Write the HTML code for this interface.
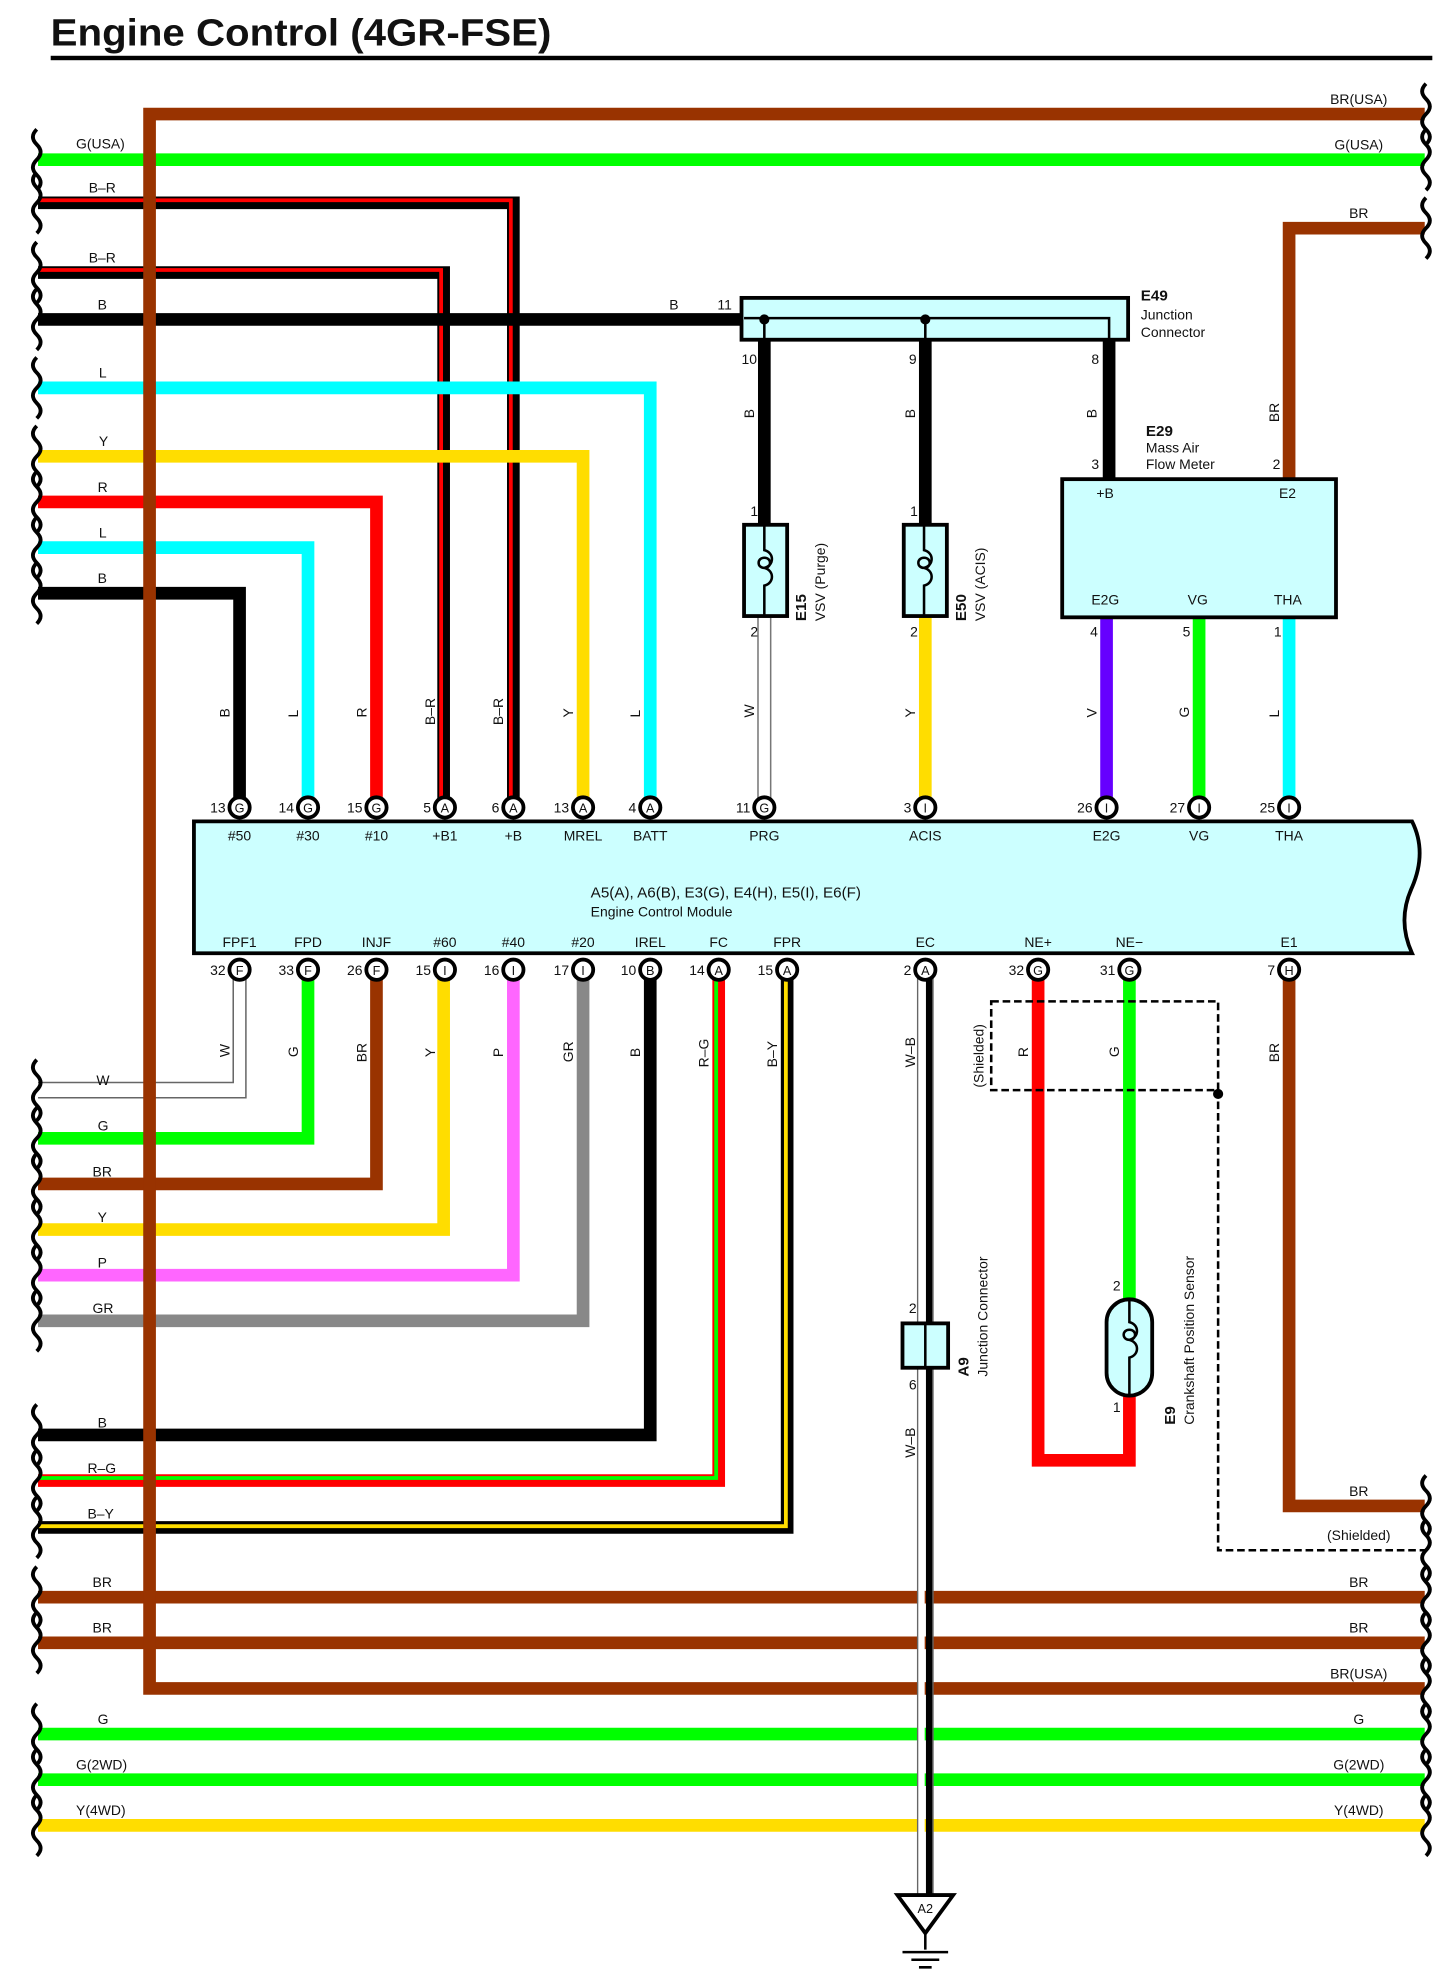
<!DOCTYPE html>
<html><head><meta charset="utf-8"><style>
html,body{margin:0;padding:0;background:#fff;}
svg{display:block}
text{font-family:"Liberation Sans",sans-serif;font-size:11px;fill:#111}
.b{font-weight:bold}
</style></head><body>
<svg width="1445" height="1980" viewBox="0 0 1140 1562" preserveAspectRatio="none" xmlns="http://www.w3.org/2000/svg">
<defs>
<path id="wv" d="M2,-24 q-6,6 0,12 q6,6 0,12 q-6,6 0,12 q6,6 0,12" fill="none" stroke="#000" stroke-width="3"/>
</defs>
<text x="40" y="36" class="b" style="font-size:30px" textLength="395" lengthAdjust="spacingAndGlyphs">Engine Control (4GR-FSE)</text>
<rect x="40" y="44" width="1090" height="3.5" fill="#000"/>

<g fill="none" stroke-linejoin="miter">
<path d="M30,126H1124" stroke="#00ff00" stroke-width="10"/>
<path d="M30,160H405V638" stroke="#000" stroke-width="10"/>
<path d="M30,158H403V638" stroke="#ff0000" stroke-width="3"/>
<path d="M30,215H350V638" stroke="#000" stroke-width="10"/>
<path d="M30,213H348V638" stroke="#ff0000" stroke-width="3"/>
<path d="M30,252H585" stroke="#000" stroke-width="10"/>
<path d="M30,306H513V638" stroke="#00ffff" stroke-width="10"/>
<path d="M30,360H460V638" stroke="#ffdd00" stroke-width="10"/>
<path d="M30,396H297V638" stroke="#ff0000" stroke-width="10"/>
<path d="M30,432H243V638" stroke="#00ffff" stroke-width="10"/>
<path d="M30,468H189V638" stroke="#000" stroke-width="10"/>
<path d="M603,268V413" stroke="#000" stroke-width="10"/>
<path d="M730,268V413" stroke="#000" stroke-width="10"/>
<path d="M875,268V378" stroke="#000" stroke-width="10"/>
<path d="M598,487V638M608,487V638" stroke="#777" stroke-width="1.2"/>
<path d="M730,487V638" stroke="#ffdd00" stroke-width="10"/>
<path d="M1124,180H1017V378" stroke="#993300" stroke-width="10"/>
<path d="M873,487V638" stroke="#6600ff" stroke-width="10"/>
<path d="M946,487V638" stroke="#00ff00" stroke-width="10"/>
<path d="M1017,487V638" stroke="#00ffff" stroke-width="10"/>
<path d="M30,854H184V766M30,866H194V766" stroke="#666" stroke-width="1.2"/>
<path d="M30,898H243V766" stroke="#00ff00" stroke-width="10"/>
<path d="M30,934H297V766" stroke="#993300" stroke-width="10"/>
<path d="M30,970H350V766" stroke="#ffdd00" stroke-width="10"/>
<path d="M30,1006H405V766" stroke="#ff66ff" stroke-width="10"/>
<path d="M30,1042H460V766" stroke="#888888" stroke-width="10"/>
<path d="M30,1132H513V766" stroke="#000" stroke-width="10"/>
<path d="M30,1168H567V766" stroke="#ff0000" stroke-width="10"/>
<path d="M30,1166H565V766" stroke="#00ff00" stroke-width="3"/>
<path d="M30,1205H621V766" stroke="#000" stroke-width="10"/>
<path d="M30,1204H620V766" stroke="#ffdd00" stroke-width="3"/>
<path d="M30,1260H1124" stroke="#993300" stroke-width="10"/>
<path d="M30,1296H1124" stroke="#993300" stroke-width="10"/>
<path d="M30,1368H1124" stroke="#00ff00" stroke-width="10"/>
<path d="M30,1404H1124" stroke="#00ff00" stroke-width="10"/>
<path d="M30,1440H1124" stroke="#ffdd00" stroke-width="10"/>
<path d="M1124,90H118V1332H1124" stroke="#993300" stroke-width="10"/>
<path d="M724,766V1495M736,766V1495" stroke="#666" stroke-width="1.2"/>
<path d="M733,766V1495" stroke="#000" stroke-width="5"/>
<path d="M727,766V1495" stroke="#fff" stroke-width="5"/>
<path d="M819,766V1152H891V1100" stroke="#ff0000" stroke-width="10"/>
<path d="M891,766V1028" stroke="#00ff00" stroke-width="10"/>
<path d="M1017,766V1188H1124" stroke="#993300" stroke-width="10"/>
<path d="M782,790H961V860H782Z" stroke="#000" stroke-width="2" stroke-dasharray="6,3"/>
<path d="M961,860V1223H1124" stroke="#000" stroke-width="2" stroke-dasharray="6,3"/>
</g>
<circle cx="961" cy="863" r="4" fill="#000"/>

<g>
<use href="#wv" x="27" y="126"/><use href="#wv" x="27" y="160"/><use href="#wv" x="27" y="215"/><use href="#wv" x="27" y="252"/>
<use href="#wv" x="27" y="306"/><use href="#wv" x="27" y="360"/><use href="#wv" x="27" y="396"/><use href="#wv" x="27" y="432"/><use href="#wv" x="27" y="468"/>
<use href="#wv" x="27" y="860"/><use href="#wv" x="27" y="898"/><use href="#wv" x="27" y="934"/><use href="#wv" x="27" y="970"/><use href="#wv" x="27" y="1006"/><use href="#wv" x="27" y="1042"/>
<use href="#wv" x="27" y="1132"/><use href="#wv" x="27" y="1168"/><use href="#wv" x="27" y="1205"/>
<use href="#wv" x="27" y="1260"/><use href="#wv" x="27" y="1296"/><use href="#wv" x="27" y="1368"/><use href="#wv" x="27" y="1404"/><use href="#wv" x="27" y="1440"/>
<use href="#wv" x="1123" y="90"/><use href="#wv" x="1123" y="126"/><use href="#wv" x="1123" y="180"/>
<use href="#wv" x="1123" y="1188"/><use href="#wv" x="1123" y="1223"/><use href="#wv" x="1123" y="1260"/><use href="#wv" x="1123" y="1296"/><use href="#wv" x="1123" y="1332"/>
<use href="#wv" x="1123" y="1368"/><use href="#wv" x="1123" y="1404"/><use href="#wv" x="1123" y="1440"/>
</g>

<rect x="585" y="235" width="305" height="33" fill="#ccffff" stroke="#000" stroke-width="3"/>
<path d="M587,251H875V268M603,251V268M730,251V268" fill="none" stroke="#000" stroke-width="2"/>
<circle cx="603" cy="252" r="4" fill="#000"/><circle cx="730" cy="252" r="4" fill="#000"/>
<text x="900" y="237" class="b" style="font-size:12px">E49</text>
<text x="900" y="252">Junction</text><text x="900" y="266">Connector</text>
<text x="528" y="244">B</text><text x="566" y="244">11</text>
<text x="585" y="287">10</text><text x="717" y="287">9</text><text x="861" y="287">8</text>

<g fill="#ccffff" stroke="#000" stroke-width="3">
<rect x="587" y="414" width="34" height="72"/><rect x="713" y="414" width="34" height="72"/>
</g>
<g fill="none" stroke="#000" stroke-width="2">
<path d="M603,414v20c8,2 8,12 0,14c-6,0 -6,-8 0,-8c6,0 6,8 0,8M603,448c8,2 8,12 0,14v24"/>
<path d="M729,414v20c8,2 8,12 0,14c-6,0 -6,-8 0,-8c6,0 6,8 0,8M729,448c8,2 8,12 0,14v24"/>
</g>
<text x="592" y="407">1</text><text x="592" y="502">2</text><text x="718" y="407">1</text><text x="718" y="502">2</text>
<text transform="translate(636,490) rotate(-90)" class="b" style="font-size:12px">E15</text>
<text transform="translate(651,490) rotate(-90)">VSV (Purge)</text>
<text transform="translate(762,490) rotate(-90)" class="b" style="font-size:12px">E50</text>
<text transform="translate(777,490) rotate(-90)">VSV (ACIS)</text>

<rect x="838" y="378" width="216" height="109" fill="#ccffff" stroke="#000" stroke-width="3"/>
<text x="904" y="344" class="b" style="font-size:12px">E29</text>
<text x="904" y="357">Mass Air</text><text x="904" y="370">Flow Meter</text>
<text x="861" y="370">3</text><text x="1004" y="370">2</text>
<text x="865" y="393">+B</text><text x="1009" y="393">E2</text>
<text x="861" y="477">E2G</text><text x="937" y="477">VG</text><text x="1005" y="477">THA</text>
<text x="860" y="502">4</text><text x="933" y="502">5</text><text x="1005" y="502">1</text>

<path d="M153,648H1114q12,24 0,52q-12,26 0,52H153Z" fill="#ccffff" stroke="#000" stroke-width="3"/>
<text x="466" y="708" style="font-size:12px">A5(A), A6(B), E3(G), E4(H), E5(I), E6(F)</text>
<text x="466" y="723">Engine Control Module</text>
<g text-anchor="middle">
<text x="189" y="663">#50</text><text x="243" y="663">#30</text><text x="297" y="663">#10</text><text x="351" y="663">+B1</text><text x="405" y="663">+B</text><text x="460" y="663">MREL</text><text x="513" y="663">BATT</text><text x="603" y="663">PRG</text><text x="730" y="663">ACIS</text><text x="873" y="663">E2G</text><text x="946" y="663">VG</text><text x="1017" y="663">THA</text>
<text x="189" y="747">FPF1</text><text x="243" y="747">FPD</text><text x="297" y="747">INJF</text><text x="351" y="747">#60</text><text x="405" y="747">#40</text><text x="460" y="747">#20</text><text x="513" y="747">IREL</text><text x="567" y="747">FC</text><text x="621" y="747">FPR</text><text x="730" y="747">EC</text><text x="819" y="747">NE+</text><text x="891" y="747">NE−</text><text x="1017" y="747">E1</text>
</g>
<g fill="#fff" stroke="#000" stroke-width="3">
<circle cx="189" cy="637" r="8"/><circle cx="243" cy="637" r="8"/><circle cx="297" cy="637" r="8"/><circle cx="351" cy="637" r="8"/><circle cx="405" cy="637" r="8"/><circle cx="460" cy="637" r="8"/><circle cx="513" cy="637" r="8"/><circle cx="603" cy="637" r="8"/><circle cx="730" cy="637" r="8"/><circle cx="873" cy="637" r="8"/><circle cx="946" cy="637" r="8"/><circle cx="1017" cy="637" r="8"/>
<circle cx="189" cy="765" r="8"/><circle cx="243" cy="765" r="8"/><circle cx="297" cy="765" r="8"/><circle cx="351" cy="765" r="8"/><circle cx="405" cy="765" r="8"/><circle cx="460" cy="765" r="8"/><circle cx="513" cy="765" r="8"/><circle cx="567" cy="765" r="8"/><circle cx="621" cy="765" r="8"/><circle cx="730" cy="765" r="8"/><circle cx="819" cy="765" r="8"/><circle cx="891" cy="765" r="8"/><circle cx="1017" cy="765" r="8"/>
</g>
<g text-anchor="middle" style="font-size:10px">
<text x="189" y="641" style="font-size:10px">G</text><text x="243" y="641" style="font-size:10px">G</text><text x="297" y="641" style="font-size:10px">G</text><text x="351" y="641" style="font-size:10px">A</text><text x="405" y="641" style="font-size:10px">A</text><text x="460" y="641" style="font-size:10px">A</text><text x="513" y="641" style="font-size:10px">A</text><text x="603" y="641" style="font-size:10px">G</text><text x="730" y="641" style="font-size:10px">I</text><text x="873" y="641" style="font-size:10px">I</text><text x="946" y="641" style="font-size:10px">I</text><text x="1017" y="641" style="font-size:10px">I</text>
<text x="189" y="769" style="font-size:10px">F</text><text x="243" y="769" style="font-size:10px">F</text><text x="297" y="769" style="font-size:10px">F</text><text x="351" y="769" style="font-size:10px">I</text><text x="405" y="769" style="font-size:10px">I</text><text x="460" y="769" style="font-size:10px">I</text><text x="513" y="769" style="font-size:10px">B</text><text x="567" y="769" style="font-size:10px">A</text><text x="621" y="769" style="font-size:10px">A</text><text x="730" y="769" style="font-size:10px">A</text><text x="819" y="769" style="font-size:10px">G</text><text x="891" y="769" style="font-size:10px">G</text><text x="1017" y="769" style="font-size:10px">H</text>
</g>
<g text-anchor="end">
<text x="178" y="641">13</text><text x="232" y="641">14</text><text x="286" y="641">15</text><text x="340" y="641">5</text><text x="394" y="641">6</text><text x="449" y="641">13</text><text x="502" y="641">4</text><text x="592" y="641">11</text><text x="719" y="641">3</text><text x="862" y="641">26</text><text x="935" y="641">27</text><text x="1006" y="641">25</text>
<text x="178" y="769">32</text><text x="232" y="769">33</text><text x="286" y="769">26</text><text x="340" y="769">15</text><text x="394" y="769">16</text><text x="449" y="769">17</text><text x="502" y="769">10</text><text x="556" y="769">14</text><text x="610" y="769">15</text><text x="719" y="769">2</text><text x="808" y="769">32</text><text x="880" y="769">31</text><text x="1006" y="769">7</text>
</g>

<g>
<text transform="translate(181,566) rotate(-90)">B</text><text transform="translate(235,566) rotate(-90)">L</text><text transform="translate(289,566) rotate(-90)">R</text><text transform="translate(343,572) rotate(-90)">B–R</text><text transform="translate(397,572) rotate(-90)">B–R</text><text transform="translate(452,566) rotate(-90)">Y</text><text transform="translate(505,566) rotate(-90)">L</text><text transform="translate(595,566) rotate(-90)">W</text><text transform="translate(722,566) rotate(-90)">Y</text><text transform="translate(865,566) rotate(-90)">V</text><text transform="translate(938,566) rotate(-90)">G</text><text transform="translate(1009,566) rotate(-90)">L</text>
<text transform="translate(595,330) rotate(-90)">B</text><text transform="translate(722,330) rotate(-90)">B</text><text transform="translate(865,330) rotate(-90)">B</text><text transform="translate(1009,333) rotate(-90)">BR</text>
<text transform="translate(181,834) rotate(-90)">W</text><text transform="translate(235,834) rotate(-90)">G</text><text transform="translate(289,838) rotate(-90)">BR</text><text transform="translate(343,834) rotate(-90)">Y</text><text transform="translate(397,834) rotate(-90)">P</text><text transform="translate(452,838) rotate(-90)">GR</text><text transform="translate(505,834) rotate(-90)">B</text><text transform="translate(559,842) rotate(-90)">R–G</text><text transform="translate(613,842) rotate(-90)">B–Y</text><text transform="translate(722,842) rotate(-90)">W–B</text><text transform="translate(722,1150) rotate(-90)">W–B</text><text transform="translate(811,834) rotate(-90)">R</text><text transform="translate(883,834) rotate(-90)">G</text><text transform="translate(1009,838) rotate(-90)">BR</text>
<text transform="translate(776,858) rotate(-90)">(Shielded)</text>
</g>

<g>
<text x="60" y="117">G(USA)</text><text x="70" y="152">B–R</text><text x="70" y="207">B–R</text><text x="77" y="244">B</text><text x="78" y="298">L</text><text x="78" y="352">Y</text><text x="77" y="388">R</text><text x="78" y="424">L</text><text x="77" y="460">B</text>
<text x="76" y="856">W</text><text x="77" y="892">G</text><text x="73" y="928">BR</text><text x="77" y="964">Y</text><text x="77" y="1000">P</text><text x="73" y="1036">GR</text><text x="77" y="1126">B</text><text x="69" y="1162">R–G</text><text x="69" y="1198">B–Y</text>
<text x="73" y="1252">BR</text><text x="73" y="1288">BR</text><text x="77" y="1360">G</text><text x="60" y="1396">G(2WD)</text><text x="60" y="1432">Y(4WD)</text>
</g>
<g text-anchor="middle">
<text x="1072" y="82">BR(USA)</text><text x="1072" y="118">G(USA)</text><text x="1072" y="172">BR</text>
<text x="1072" y="1180">BR</text><text x="1072" y="1215">(Shielded)</text><text x="1072" y="1252">BR</text><text x="1072" y="1288">BR</text><text x="1072" y="1324">BR(USA)</text><text x="1072" y="1360">G</text><text x="1072" y="1396">G(2WD)</text><text x="1072" y="1432">Y(4WD)</text>
</g>

<rect x="712" y="1044" width="36" height="35" fill="#ccffff" stroke="#000" stroke-width="3"/>
<path d="M730,1044V1079" stroke="#000" stroke-width="2"/>
<text x="717" y="1036">2</text><text x="717" y="1096">6</text>
<text transform="translate(764,1086) rotate(-90)" class="b" style="font-size:12px">A9</text>
<text transform="translate(779,1086) rotate(-90)">Junction Connector</text>
<path d="M708,1495H752L730,1525Z" fill="#fff" stroke="#000" stroke-width="3"/>
<text x="730" y="1509" text-anchor="middle" style="font-size:10px">A2</text>
<path d="M730,1525V1538M712,1540H748M719,1546H741M725,1552H735" stroke="#000" stroke-width="2"/>

<rect x="873" y="1025" width="36" height="76" rx="18" fill="#ccffff" stroke="#000" stroke-width="3"/>
<path d="M891,1025v18c8,2 8,12 0,14c-6,0 -6,-8 0,-8c6,0 6,8 0,8M891,1057c8,2 8,12 0,14v30" fill="none" stroke="#000" stroke-width="2"/>
<text x="878" y="1018">2</text><text x="878" y="1114">1</text>
<text transform="translate(927,1124) rotate(-90)" class="b" style="font-size:12px">E9</text>
<text transform="translate(942,1124) rotate(-90)">Crankshaft Position Sensor</text>
</svg>
</body></html>
